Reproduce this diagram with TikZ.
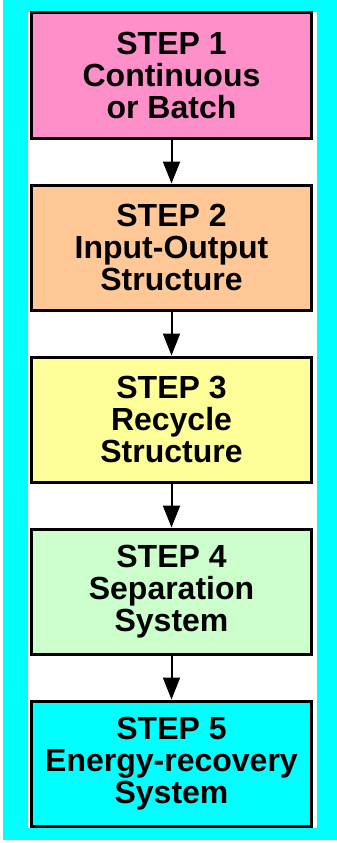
\documentclass[tikz,border=0pt]{standalone}
\usepackage{fontspec}
\setmainfont{Liberation Sans}
\usetikzlibrary{arrows.meta}
\definecolor{bgcyan}{HTML}{00FFFF}
\definecolor{pinkfill}{HTML}{FF8FC8}
\definecolor{peachfill}{HTML}{FFC896}
\definecolor{yellowfill}{HTML}{FFFF99}
\definecolor{greenfill}{HTML}{CCFFCC}
\definecolor{cyanfill}{HTML}{00FFFF}
\tikzset{
  stepbox/.style={draw=black, line width=3pt, minimum width=280pt, minimum height=125pt,
    inner sep=0pt, align=center,
    font=\fontsize{32}{32}\selectfont\bfseries},
  flowarrow/.style={line width=2pt, -{Triangle[width=17pt,length=22pt]}}
}
\begin{document}
\begin{tikzpicture}[x=1pt,y=-1pt]
\useasboundingbox (0,0) rectangle (337,843);
\fill[white] (0,0) rectangle (337,843);
\fill[bgcyan] (3,0) rectangle (337,840);
\fill[white] (28,12) rectangle (317,828);
\node[stepbox, fill=pinkfill]   (s1) at (171.5,75.5)  {STEP 1\\Continuous\\or Batch};
\node[stepbox, fill=peachfill]  (s2) at (171.5,247.5) {STEP 2\\Input-Output\\Structure};
\node[stepbox, fill=yellowfill] (s3) at (171.5,419.5) {STEP 3\\Recycle\\Structure};
\node[stepbox, fill=greenfill]  (s4) at (171.5,591.5) {STEP 4\\Separation\\System};
\node[stepbox, fill=cyanfill]   (s5) at (171.5,763.5) {STEP 5\\Energy-recovery\\System};
\draw[flowarrow] (s1.south) -- (s2.north);
\draw[flowarrow] (s2.south) -- (s3.north);
\draw[flowarrow] (s3.south) -- (s4.north);
\draw[flowarrow] (s4.south) -- (s5.north);
\end{tikzpicture}
\end{document}
